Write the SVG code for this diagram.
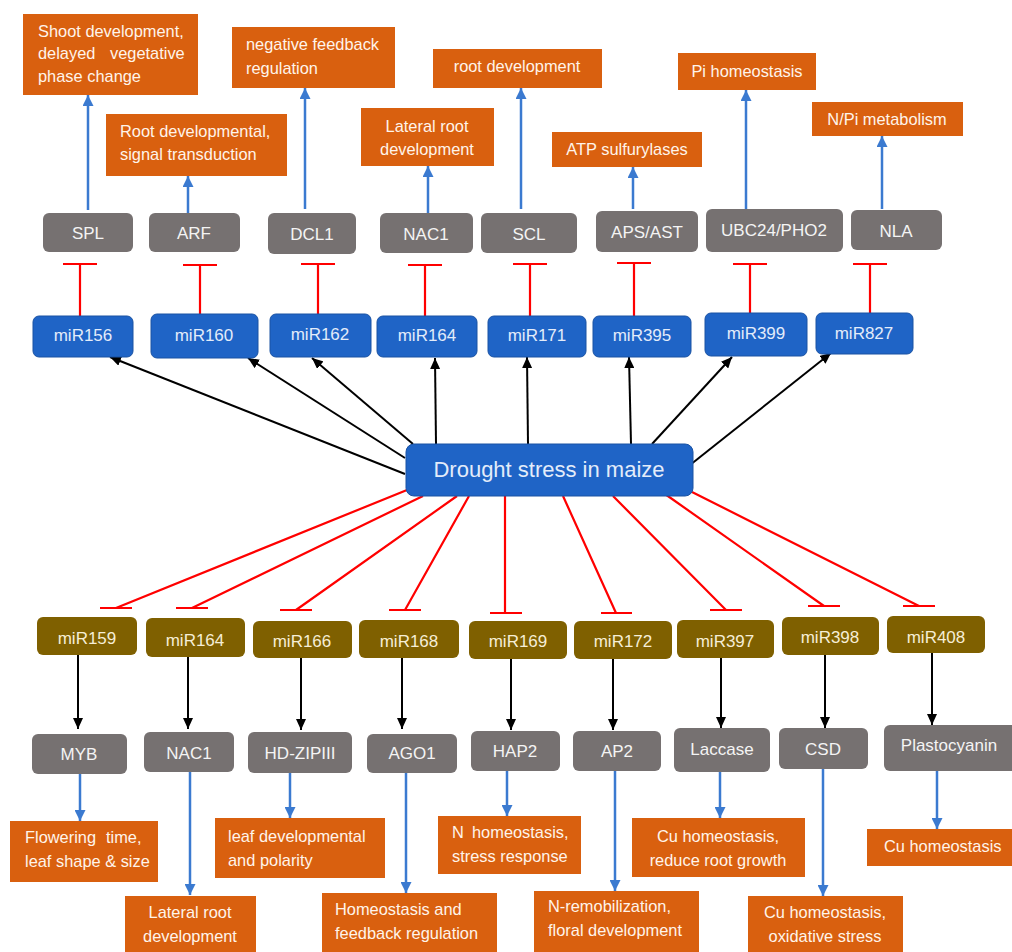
<svg xmlns="http://www.w3.org/2000/svg" width="1012" height="952" viewBox="0 0 1012 952">
<defs>
<style>
.or{fill:#D9600F;}
.ot{font-family:"Liberation Sans",Arial,sans-serif;font-size:16.4px;fill:#FFF4EA;}
.gr{fill:#767171;}
.gt{font-family:"Liberation Sans",Arial,sans-serif;font-size:17px;fill:#F4F4F4;text-anchor:middle;}
.bl{fill:#1F64C6;stroke:#1A52A3;stroke-width:1;}
.bt{font-family:"Liberation Sans",Arial,sans-serif;font-size:17px;fill:#E3ECFA;text-anchor:middle;}
.br{fill:#7F6000;}
.brt{font-family:"Liberation Sans",Arial,sans-serif;font-size:17px;fill:#F6EED6;text-anchor:middle;}
.c{text-anchor:middle;}
.ba{stroke:#3B7AD0;stroke-width:2.5;fill:none;marker-end:url(#ab);}
.ka{stroke:#000;stroke-width:2;fill:none;marker-end:url(#ak);}
.rd{stroke:#FF0000;stroke-width:2.2;fill:none;}
</style>
<marker id="ab" markerUnits="userSpaceOnUse" markerWidth="11" markerHeight="11" refX="11" refY="5.5" orient="auto"><path d="M0,0 L11,5.5 L0,11 z" fill="#3B7AD0"/></marker>
<marker id="ak" markerUnits="userSpaceOnUse" markerWidth="11" markerHeight="10" refX="11" refY="5" orient="auto"><path d="M0,0 L11,5 L0,10 z" fill="#000"/></marker>
</defs>
<rect width="1012" height="952" fill="#FFFFFF"/>

<g id="connectors">
<!-- blue arrows top -->
<line class="ba" x1="88" y1="210" x2="88" y2="95"/>
<line class="ba" x1="188" y1="213" x2="188" y2="176"/>
<line class="ba" x1="305" y1="209" x2="305" y2="88"/>
<line class="ba" x1="428" y1="213" x2="428" y2="166"/>
<line class="ba" x1="521" y1="209" x2="521" y2="88"/>
<line class="ba" x1="633" y1="209" x2="633" y2="167"/>
<line class="ba" x1="746" y1="209" x2="746" y2="90"/>
<line class="ba" x1="882" y1="209" x2="882" y2="136"/>
<!-- red top inhibitions -->
<path class="rd" d="M80,316 V264 M63,264 H97"/>
<path class="rd" d="M200,314 V265 M183,265 H217"/>
<path class="rd" d="M318,314 V264 M301,264 H335"/>
<path class="rd" d="M425,316 V265 M408,265 H442"/>
<path class="rd" d="M530,316 V264 M513,264 H547"/>
<path class="rd" d="M634,316 V263 M617,263 H651"/>
<path class="rd" d="M750,313 V264 M733,264 H767"/>
<path class="rd" d="M870,313 V264 M853,264 H887"/>
<!-- black arrows drought to miR (top) -->
<line class="ka" x1="405" y1="474" x2="110" y2="357"/>
<line class="ka" x1="405" y1="458" x2="248" y2="358"/>
<line class="ka" x1="413" y1="444" x2="312" y2="358"/>
<line class="ka" x1="436" y1="444" x2="435" y2="358"/>
<line class="ka" x1="528" y1="444" x2="527" y2="357"/>
<line class="ka" x1="631" y1="444" x2="629" y2="357"/>
<line class="ka" x1="652" y1="444" x2="732" y2="357"/>
<line class="ka" x1="690" y1="465" x2="831" y2="353"/>
<!-- red bottom inhibitions -->
<path class="rd" d="M407,490 L116,608 M100,608 H132"/>
<path class="rd" d="M423,496 L192,608 M176,608 H208"/>
<path class="rd" d="M457,496 L296,610 M280,610 H312"/>
<path class="rd" d="M469,496 L405,610 M389,610 H421"/>
<path class="rd" d="M505,496 L505,613 M490,613 H522"/>
<path class="rd" d="M563,496 L616,613 M601,613 H632"/>
<path class="rd" d="M613,496 L726,610 M710,610 H742"/>
<path class="rd" d="M665,494 L824,606 M808,606 H840"/>
<path class="rd" d="M692,492 L919,606 M903,606 H935"/>
<!-- black arrows miR to targets (bottom) -->
<line class="ka" x1="78" y1="655" x2="78" y2="729"/>
<line class="ka" x1="188" y1="657" x2="188" y2="729"/>
<line class="ka" x1="301" y1="658" x2="301" y2="730"/>
<line class="ka" x1="402" y1="658" x2="402" y2="729"/>
<line class="ka" x1="511" y1="659" x2="511" y2="730"/>
<line class="ka" x1="613" y1="659" x2="613" y2="730"/>
<line class="ka" x1="721" y1="658" x2="721" y2="728"/>
<line class="ka" x1="825" y1="655" x2="825" y2="728"/>
<line class="ka" x1="932" y1="653" x2="932" y2="725"/>
<!-- blue arrows bottom -->
<line class="ba" x1="80" y1="774" x2="80" y2="821"/>
<line class="ba" x1="190" y1="772" x2="190" y2="895"/>
<line class="ba" x1="290" y1="773" x2="290" y2="818"/>
<line class="ba" x1="406" y1="773" x2="406" y2="893"/>
<line class="ba" x1="507" y1="771" x2="507" y2="816"/>
<line class="ba" x1="615" y1="771" x2="615" y2="891"/>
<line class="ba" x1="720" y1="772" x2="720" y2="818"/>
<line class="ba" x1="823" y1="769" x2="823" y2="896"/>
<line class="ba" x1="937" y1="771" x2="937" y2="829"/>
</g>

<!-- top orange function boxes -->
<g id="f-spl"><rect class="or" x="23" y="14" width="175" height="81"/>
<text class="ot" x="38" y="37">Shoot development,</text>
<text class="ot" y="59"><tspan x="38">delayed</tspan><tspan x="110">vegetative</tspan></text>
<text class="ot" x="38" y="82">phase change</text></g>
<g id="f-arf"><rect class="or" x="106" y="114" width="181" height="62"/>
<text class="ot" x="120" y="137">Root developmental,</text>
<text class="ot" x="120" y="160">signal transduction</text></g>
<g id="f-dcl1"><rect class="or" x="232" y="27" width="163" height="61"/>
<text class="ot" x="246" y="50">negative feedback</text>
<text class="ot" x="246" y="74">regulation</text></g>
<g id="f-scl"><rect class="or" x="433" y="49" width="169" height="39"/>
<text class="ot c" x="517" y="72">root development</text></g>
<g id="f-nac1"><rect class="or" x="361" y="108" width="133" height="58"/>
<text class="ot c" x="427" y="132">Lateral root</text>
<text class="ot c" x="427" y="155">development</text></g>
<g id="f-aps"><rect class="or" x="552" y="132" width="150" height="35"/>
<text class="ot c" x="627" y="155">ATP sulfurylases</text></g>
<g id="f-ubc"><rect class="or" x="678" y="53" width="138" height="37"/>
<text class="ot c" x="747" y="77">Pi homeostasis</text></g>
<g id="f-nla"><rect class="or" x="812" y="102" width="151" height="34"/>
<text class="ot c" x="887" y="125">N/Pi metabolism</text></g>

<!-- top grey target boxes -->
<g id="t-spl"><rect class="gr" x="43" y="213" width="90" height="39" rx="6"/><text class="gt" x="88" y="239">SPL</text></g>
<g id="t-arf"><rect class="gr" x="149" y="213" width="91" height="39" rx="6"/><text class="gt" x="194" y="239">ARF</text></g>
<g id="t-dcl1"><rect class="gr" x="268" y="213" width="88" height="41" rx="6"/><text class="gt" x="312" y="240">DCL1</text></g>
<g id="t-nac1"><rect class="gr" x="380" y="213" width="93" height="40" rx="6"/><text class="gt" x="426" y="240">NAC1</text></g>
<g id="t-scl"><rect class="gr" x="481" y="213" width="96" height="40" rx="6"/><text class="gt" x="529" y="240">SCL</text></g>
<g id="t-aps"><rect class="gr" x="596" y="211" width="102" height="41" rx="6"/><text class="gt" x="647" y="238">APS/AST</text></g>
<g id="t-ubc"><rect class="gr" x="706" y="209" width="137" height="43" rx="6"/><text class="gt" x="774" y="236">UBC24/PHO2</text></g>
<g id="t-nla"><rect class="gr" x="851" y="210" width="91" height="40" rx="6"/><text class="gt" x="896" y="237">NLA</text></g>

<!-- top blue miRNA boxes -->
<g id="m-156"><rect class="bl" x="33" y="316" width="100" height="41" rx="6"/><text class="bt" x="83" y="341">miR156</text></g>
<g id="m-160"><rect class="bl" x="151" y="314" width="107" height="44" rx="6"/><text class="bt" x="204" y="341">miR160</text></g>
<g id="m-162"><rect class="bl" x="270" y="314" width="101" height="43" rx="6"/><text class="bt" x="320" y="340">miR162</text></g>
<g id="m-164u"><rect class="bl" x="377" y="316" width="100" height="41" rx="6"/><text class="bt" x="427" y="341">miR164</text></g>
<g id="m-171"><rect class="bl" x="488" y="316" width="98" height="41" rx="6"/><text class="bt" x="537" y="341">miR171</text></g>
<g id="m-395"><rect class="bl" x="593" y="316" width="98" height="41" rx="6"/><text class="bt" x="642" y="341">miR395</text></g>
<g id="m-399"><rect class="bl" x="705" y="313" width="102" height="43" rx="6"/><text class="bt" x="756" y="339">miR399</text></g>
<g id="m-827"><rect class="bl" x="816" y="313" width="97" height="41" rx="6"/><text class="bt" x="864" y="339">miR827</text></g>

<!-- central node -->
<g id="drought"><rect class="bl" x="406" y="444" width="287" height="52" rx="8"/>
<text x="549" y="477" font-family="Liberation Sans, Arial, sans-serif" font-size="22" fill="#E3ECFA" text-anchor="middle">Drought stress in maize</text></g>

<!-- bottom brown miRNA boxes -->
<g id="m-159"><rect class="br" x="37" y="617" width="100" height="38" rx="6"/><text class="brt" x="87" y="644">miR159</text></g>
<g id="m-164d"><rect class="br" x="146" y="618" width="99" height="39" rx="6"/><text class="brt" x="195" y="646">miR164</text></g>
<g id="m-166"><rect class="br" x="253" y="621" width="99" height="37" rx="6"/><text class="brt" x="302" y="647">miR166</text></g>
<g id="m-168"><rect class="br" x="359" y="620" width="100" height="38" rx="6"/><text class="brt" x="409" y="647">miR168</text></g>
<g id="m-169"><rect class="br" x="469" y="621" width="98" height="38" rx="6"/><text class="brt" x="518" y="647">miR169</text></g>
<g id="m-172"><rect class="br" x="574" y="621" width="98" height="38" rx="6"/><text class="brt" x="623" y="647">miR172</text></g>
<g id="m-397"><rect class="br" x="677" y="620" width="97" height="38" rx="6"/><text class="brt" x="725" y="647">miR397</text></g>
<g id="m-398"><rect class="br" x="782" y="617" width="97" height="38" rx="6"/><text class="brt" x="830" y="643">miR398</text></g>
<g id="m-408"><rect class="br" x="887" y="616" width="98" height="37" rx="6"/><text class="brt" x="936" y="643">miR408</text></g>

<!-- bottom grey target boxes -->
<g id="t-myb"><rect class="gr" x="32" y="734" width="95" height="40" rx="6"/><text class="gt" x="79" y="760">MYB</text></g>
<g id="t-nac1d"><rect class="gr" x="144" y="732" width="90" height="40" rx="6"/><text class="gt" x="189" y="759">NAC1</text></g>
<g id="t-hdzip"><rect class="gr" x="248" y="732" width="104" height="41" rx="6"/><text class="gt" x="300" y="759">HD-ZIPIII</text></g>
<g id="t-ago1"><rect class="gr" x="367" y="734" width="90" height="39" rx="6"/><text class="gt" x="412" y="759">AGO1</text></g>
<g id="t-hap2"><rect class="gr" x="471" y="731" width="89" height="40" rx="6"/><text class="gt" x="515" y="757">HAP2</text></g>
<g id="t-ap2"><rect class="gr" x="573" y="731" width="88" height="40" rx="6"/><text class="gt" x="617" y="757">AP2</text></g>
<g id="t-laccase"><rect class="gr" x="674" y="728" width="96" height="44" rx="6"/><text class="gt" x="722" y="755">Laccase</text></g>
<g id="t-csd"><rect class="gr" x="779" y="728" width="89" height="41" rx="6"/><text class="gt" x="823" y="755">CSD</text></g>
<g id="t-plasto"><rect class="gr" x="884" y="725" width="136" height="46" rx="6"/><text class="gt" x="949" y="751">Plastocyanin</text></g>

<!-- bottom orange function boxes -->
<g id="f-myb"><rect class="or" x="10" y="821" width="148" height="61"/>
<text class="ot" y="843"><tspan x="25">Flowering</tspan><tspan x="106">time,</tspan></text>
<text class="ot" x="25" y="867">leaf shape &amp; size</text></g>
<g id="f-nac1d"><rect class="or" x="125" y="896" width="131" height="60"/>
<text class="ot c" x="190" y="918">Lateral root</text>
<text class="ot c" x="190" y="942">development</text></g>
<g id="f-hdzip"><rect class="or" x="215" y="818" width="170" height="60"/>
<text class="ot" x="228" y="842">leaf developmental</text>
<text class="ot" x="228" y="866">and polarity</text></g>
<g id="f-ago1"><rect class="or" x="322" y="893" width="175" height="62"/>
<text class="ot" x="335" y="915">Homeostasis and</text>
<text class="ot" x="335" y="939">feedback regulation</text></g>
<g id="f-hap2"><rect class="or" x="438" y="816" width="143" height="58"/>
<text class="ot" y="838"><tspan x="452">N</tspan><tspan x="472">homeostasis,</tspan></text>
<text class="ot" x="452" y="862">stress response</text></g>
<g id="f-ap2"><rect class="or" x="534" y="891" width="165" height="64"/>
<text class="ot" x="548" y="912">N-remobilization,</text>
<text class="ot" x="548" y="936">floral development</text></g>
<g id="f-laccase"><rect class="or" x="632" y="818" width="173" height="59"/>
<text class="ot c" x="718" y="842">Cu homeostasis,</text>
<text class="ot c" x="718" y="866">reduce root growth</text></g>
<g id="f-csd"><rect class="or" x="748" y="896" width="155" height="60"/>
<text class="ot c" x="825" y="918">Cu homeostasis,</text>
<text class="ot c" x="825" y="942">oxidative stress</text></g>
<g id="f-plasto"><rect class="or" x="867" y="829" width="150" height="37"/>
<text class="ot" x="884" y="852">Cu homeostasis</text></g>
</svg>
